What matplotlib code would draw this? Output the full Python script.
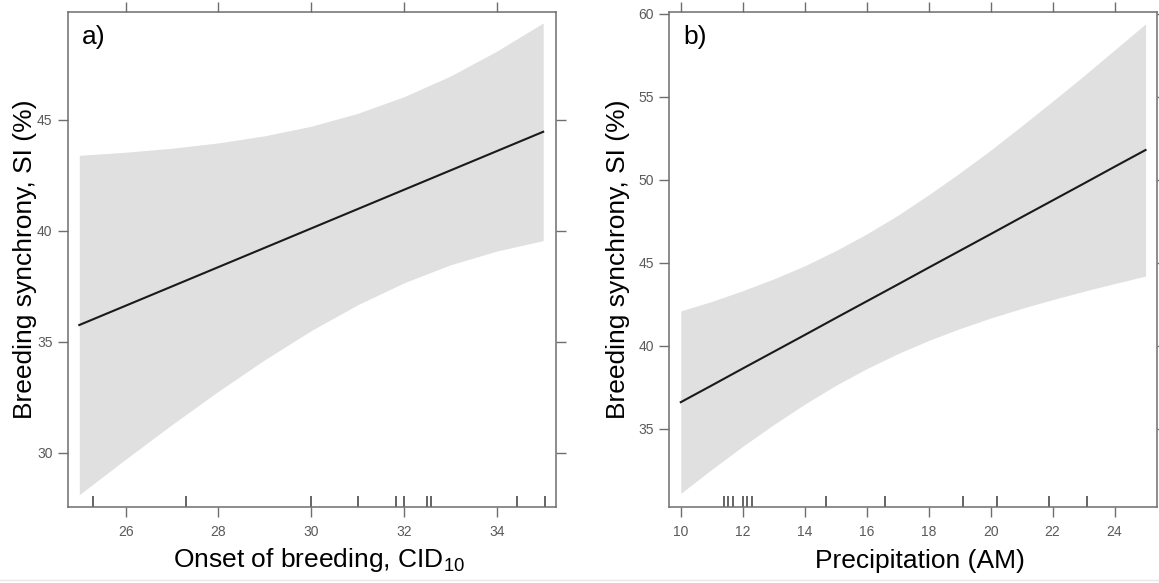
import matplotlib
matplotlib.use("Agg")
import matplotlib.pyplot as plt
from matplotlib.lines import Line2D
import numpy as np

plt.rcParams['font.family'] = ['Liberation Sans', 'DejaVu Sans']
plt.rcParams['mathtext.fontset'] = 'custom'
plt.rcParams['mathtext.rm'] = 'Liberation Sans'

# ---- Panel a: onset of breeding ----
a_x = [25, 26, 27, 28, 29, 30, 31, 32, 33, 34, 35]
a_fit = [35.75, 36.62, 37.49, 38.36, 39.23, 40.10, 40.97, 41.84, 42.71, 43.58, 44.45]
a_upper = [43.39, 43.53, 43.71, 43.95, 44.27, 44.70, 45.28, 46.03, 46.96, 48.08, 49.35]
a_lower = [28.11, 29.71, 31.27, 32.77, 34.19, 35.50, 36.66, 37.65, 38.46, 39.08, 39.55]
a_rug = [25.29, 27.30, 30.0, 31.01, 31.82, 32.0, 32.50, 32.59, 34.44, 35.03]
a_xticks = [26, 28, 30, 32, 34]
a_yticks = [30, 35, 40, 45]

# ---- Panel b: precipitation ----
b_x = [10, 11, 12, 13, 14, 15, 16, 17, 18, 19, 20, 21, 22, 23, 24, 25]
b_fit = [36.60, 37.61, 38.63, 39.64, 40.65, 41.67, 42.68, 43.69, 44.71, 45.72,
         46.73, 47.75, 48.76, 49.77, 50.79, 51.80]
b_upper = [42.10, 42.67, 43.32, 44.03, 44.82, 45.73, 46.74, 47.86, 49.10, 50.41,
           51.79, 53.25, 54.74, 56.26, 57.83, 59.40]
b_lower = [31.10, 32.55, 33.94, 35.25, 36.48, 37.61, 38.62, 39.52, 40.32, 41.03,
           41.67, 42.25, 42.78, 43.28, 43.75, 44.20]
b_rug = [11.41, 11.54, 11.70, 12.0, 12.13, 12.29, 14.69, 16.60, 19.12, 20.19, 21.90, 23.10]
b_xticks = [10, 12, 14, 16, 18, 20, 22, 24]
b_yticks = [35, 40, 45, 50, 55, 60]

ylabel = "Breeding synchrony, SI (%)"
a_xlabel = r"Onset of breeding, CID$_{10}$"
b_xlabel = "Precipitation (AM)"

W, H = 1159, 583
fig = plt.figure(figsize=(W / 100, H / 100), dpi=100)

frame_col = '#6e6e6e'
tick_lab_col = '#5a5a5a'
band_col = '#e0e0e0'

def panel(rect, x, fit, lo, up, rug, xticks, yticks, xlim, ylim, xlabel, tag, ylab_x, xlab_y):
    ax = fig.add_axes(rect)
    ax.fill_between(x, lo, up, color=band_col, lw=0)
    ax.plot(x, fit, color='#1a1a1a', lw=1.5)
    ax.vlines(rug, 0, 0.022, transform=ax.get_xaxis_transform(), color='#3a3a3a', lw=1.1)
    ax.set_xlim(*xlim)
    ax.set_ylim(*ylim)
    ax.set_xticks(xticks)
    ax.set_yticks(yticks)
    for s in ax.spines.values():
        s.set_color(frame_col)
        s.set_linewidth(1.1)
    ax.tick_params(direction='out', length=7, width=1.0, color=frame_col,
                   labelsize=10, labelcolor=tick_lab_col,
                   top=True, right=True, labeltop=False, labelright=False)
    ax.tick_params(axis='x', pad=6)
    ax.tick_params(axis='y', pad=4)
    ax.set_xlabel(xlabel, fontsize=19)
    ax.xaxis.set_label_coords(0.515, xlab_y)
    ax.set_ylabel(ylabel, fontsize=19)
    ax.yaxis.set_label_coords(ylab_x, 0.5)
    ax.text(0.03, 0.975, tag, transform=ax.transAxes, fontsize=19, va='top', ha='left')
    return ax

top_px, bot_px = 12.3, 506.7
b_frac = (H - bot_px) / H
h_frac = (bot_px - top_px) / H

panel([67.7 / W, b_frac, 488.0 / W, h_frac], a_x, a_fit, a_lower, a_upper, a_rug,
      a_xticks, a_yticks, (24.75, 35.27), (27.57, 49.83), a_xlabel, 'a)', -0.062, -0.08)
panel([669.0 / W, b_frac, 487.7 / W, h_frac], b_x, b_fit, b_lower, b_upper, b_rug,
      b_xticks, b_yticks, (9.62, 25.36), (30.3, 60.1), b_xlabel, 'b)', -0.08, -0.085)

# faint separator line along the bottom edge of the image
fig.add_artist(Line2D([0, 1], [3.0 / H, 3.0 / H], transform=fig.transFigure,
                      color='#e6e6e6', lw=1.0))

fig.savefig('out.png', dpi=100)
